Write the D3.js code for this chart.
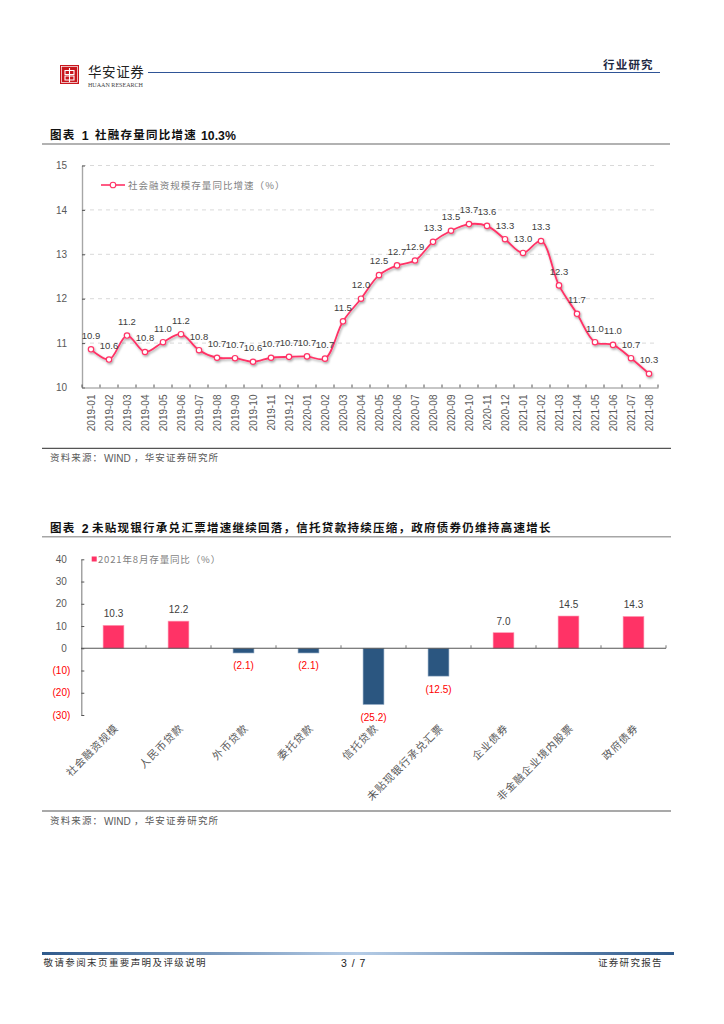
<!DOCTYPE html>
<html><head><meta charset="utf-8">
<script src="https://cdn.jsdelivr.net/npm/d3@7/dist/d3.min.js"></script>
<style>
html,body{margin:0;padding:0;background:#fff}
svg{display:block}
text{font-family:"Liberation Sans",Arial,sans-serif}
.cjk{font-family:"Noto Sans CJK SC","Liberation Sans",sans-serif}
.domain{fill:none}
</style></head><body>
<svg id="page" width="724" height="1024" viewBox="0 0 724 1024"></svg>
<script>
// ---- data ----
const months = ["2019-01","2019-02","2019-03","2019-04","2019-05","2019-06","2019-07","2019-08","2019-09","2019-10","2019-11","2019-12","2020-01","2020-02","2020-03","2020-04","2020-05","2020-06","2020-07","2020-08","2020-09","2020-10","2020-11","2020-12","2021-01","2021-02","2021-03","2021-04","2021-05","2021-06","2021-07","2021-08"];
const tsfGrowth = [10.86,10.63,11.17,10.80,11.02,11.20,10.84,10.67,10.66,10.58,10.67,10.69,10.70,10.65,11.49,12.00,12.53,12.75,12.86,13.28,13.53,13.68,13.64,13.34,13.03,13.30,12.30,11.66,11.02,10.96,10.66,10.31];
const tsfLabels = ["10.9","10.6","11.2","10.8","11.0","11.2","10.8","10.7","10.7","10.6","10.7","10.7","10.7","10.7","11.5","12.0","12.5","12.7","12.9","13.3","13.5","13.7","13.6","13.3","13.0","13.3","12.3","11.7","11.0","11.0","10.7","10.3"];
const tsfTicks = [10,11,12,13,14,15];
const categories = ["社会融资规模","人民币贷款","外币贷款","委托贷款","信托贷款","未贴现银行承兑汇票","企业债券","非金融企业境内股票","政府债券"];
const stockYoY = [10.3,12.2,-2.1,-2.1,-25.2,-12.5,7.0,14.5,14.3];
const yoyTicks = [-30,-20,-10,0,10,20,30,40];

const PINK="#FF3366", BLUE="#2B5680", GREY="#595959";
const svg=d3.select("#page");
const fmtNeg=v=>v<0?`(${Math.abs(v)})`:`${v}`;
const T=(x,y,s,size,opt={})=>svg.append("text").attr("x",x).attr("y",y).attr("class",opt.cjk===false?null:"cjk")
  .attr("font-size",size).attr("fill",opt.fill||"#222").attr("font-weight",opt.bold?"700":"400")
  .attr("text-anchor",opt.anchor||"start").attr("letter-spacing",opt.ls||0).text(s);
const rule=(x1,x2,y,c,w)=>svg.append("line").attr("x1",x1).attr("x2",x2).attr("y1",y).attr("y2",y).attr("stroke",c).attr("stroke-width",w);

// ---- defs ----
const defs=svg.append("defs");
const g=defs.append("linearGradient").attr("id","foot");
[[0,"#2F5A8C"],[0.5,"#B5CCE6"],[1,"#2F5A8C"]].forEach(s=>g.append("stop").attr("offset",s[0]).attr("stop-color",s[1]));
const f=defs.append("filter").attr("id","shadow").attr("x","-5%").attr("y","-5%").attr("width","110%").attr("height","115%");
f.append("feDropShadow").attr("dx",1).attr("dy",1.5).attr("stdDeviation",0.9).attr("flood-color","#000").attr("flood-opacity",0.35);

// ---- header ----
const logo=svg.append("g").attr("transform","translate(60,65)");
logo.append("rect").attr("width",19).attr("height",19).attr("fill","#C8161D");
logo.append("rect").attr("x",1.5).attr("y",1.5).attr("width",16).attr("height",16).attr("fill","none").attr("stroke","#fff").attr("stroke-width",.7);
logo.append("path").attr("d","M5 5.5H14V9.5H5ZM5 11H14V15H5ZM9.5 3V17").attr("fill","none").attr("stroke","#fff").attr("stroke-width",1.1);
T(88,77,"华安证券",13.5,{fill:"#222",ls:.6});
svg.append("text").attr("x",88).attr("y",86.5).attr("font-size",6).attr("fill","#444").attr("textLength",55)
  .attr("lengthAdjust","spacingAndGlyphs").style("font-family","'Liberation Serif',serif").text("HUAAN RESEARCH");
rule(148,660,72.5,"#2F5597",1.2);
T(603,69,"行业研究",11.5,{bold:true,fill:"#1F2A44",ls:1.2});

// ---- chart 1 ----
T(50,139,"图表",11.5,{bold:true,fill:"#111",ls:1.25});
T(81.7,139.5,"1",12.3,{bold:true,fill:"#111",cjk:false});
T(95,139,"社融存量同比增速",11.5,{bold:true,fill:"#111",ls:1.25});
T(201,139.5,"10.3%",12.3,{bold:true,fill:"#111",cjk:false});
rule(42,670,144,"#666",1.2);
const x1=d3.scaleBand().domain(months).range([82,658]);
const y1=d3.scaleLinear().domain([10,15]).range([387.5,165.5]);
svg.append("g").selectAll("line").data(tsfTicks.slice(1)).join("line")
  .attr("x1",82).attr("x2",658).attr("y1",d=>y1(d)).attr("y2",d=>y1(d))
  .attr("stroke","#D9D9D9").attr("stroke-dasharray","4 4").attr("stroke-width",1);
const ay1=svg.append("g").attr("transform","translate(82,0)").call(d3.axisLeft(y1).tickValues(tsfTicks).tickFormat(d3.format("d")).tickSizeInner(-3).tickSizeOuter(0).tickPadding(15));
ay1.select(".domain").attr("stroke","#A6A6A6").attr("stroke-width",1.4);
ay1.selectAll("line").attr("stroke","#555");
ay1.selectAll("text").attr("font-size",10).attr("fill",GREY).style("font-family","'Liberation Sans'");
const ax1=svg.append("g").attr("transform","translate(0,387.5)").call(d3.axisBottom(x1).tickSize(0).tickPadding(0));
ax1.select(".domain").attr("stroke","#8C8C8C").attr("stroke-width",1);
ax1.selectAll("text").attr("transform","rotate(-90)").attr("text-anchor","end").attr("x",-7).attr("y",0).attr("dy","0.35em")
  .attr("font-size",10).attr("fill",GREY).style("font-family","'Liberation Sans'");
svg.append("g").selectAll("line").data([...months.map(m=>x1(m)),x1.range()[1]]).join("line")
  .attr("x1",d=>d).attr("x2",d=>d).attr("y1",387.5).attr("y2",384.5).attr("stroke","#555");
const pts=months.map((m,i)=>({m,v:tsfGrowth[i],l:tsfLabels[i]}));
const cx=d=>x1(d.m)+x1.bandwidth()/2;
const line=d3.line().x(cx).y(d=>y1(d.v)).curve(d3.curveCatmullRom.alpha(.5));
const lay=svg.append("g").attr("filter","url(#shadow)");
lay.append("path").datum(pts).attr("d",line).attr("fill","none").attr("stroke",PINK).attr("stroke-width",1.8);
lay.selectAll("circle").data(pts).join("circle").attr("cx",cx).attr("cy",d=>y1(d.v)).attr("r",2.7)
  .attr("fill","#fff").attr("stroke",PINK).attr("stroke-width",1.2);
svg.append("g").selectAll("text").data(pts).join("text").attr("x",cx).attr("y",d=>y1(d.v)-14).attr("dy","0.35em")
  .attr("text-anchor","middle").attr("font-size",9.5).attr("fill","#404040").text(d=>d.l);
// legend 1
rule(101,125,185,PINK,1.6);
svg.append("circle").attr("cx",113).attr("cy",185).attr("r",2.8).attr("fill","#fff").attr("stroke",PINK).attr("stroke-width",1.1);
T(128,188.5,"社会融资规模存量同比增速（%）",9.5,{fill:"#7F7F7F",ls:1.05});
rule(42,671,448.3,"#555",1.2);
T(50,461,"资料来源：",9.5,{fill:GREY,ls:1.15});
T(104,461.5,"WIND",10,{fill:GREY,cjk:false});
T(134,461,"，华安证券研究所",9.5,{fill:GREY,ls:1.15});

// ---- chart 2 ----
T(50,532,"图表",11.5,{bold:true,fill:"#111",ls:1.25});
T(81.7,532.5,"2",12.3,{bold:true,fill:"#111",cjk:false});
T(92,532,"未贴现银行承兑汇票增速继续回落，信托贷款持续压缩，政府债券仍维持高速增长",11.5,{bold:true,fill:"#111",ls:1.27});
rule(42,671,536.8,"#A6A6A6",1.5);
const x2=d3.scaleBand().domain(categories).range([81,666]).paddingInner(.68).paddingOuter(.34);
const cell=x2.step();
const y2=d3.scaleLinear().domain([-30,40]).range([715,559.3]);
const cat=d=>x2(d)+x2.bandwidth()/2;
const bars=categories.map((c,i)=>({c,v:stockYoY[i]}));
svg.append("g").selectAll("rect").data(bars).join("rect").attr("x",d=>x2(d.c)).attr("width",x2.bandwidth())
  .attr("y",d=>y2(Math.max(d.v,0))).attr("height",d=>Math.abs(y2(d.v)-y2(0)))
  .attr("fill",d=>d.v<0?BLUE:PINK).attr("stroke",d=>d.v<0?"#7F9BB8":"#FF99B3").attr("stroke-width",.6);
const ay2=svg.append("g").attr("transform","translate(81.3,0)").call(d3.axisLeft(y2).tickValues(yoyTicks).tickFormat(fmtNeg).tickSizeInner(-3).tickSizeOuter(0).tickPadding(11));
ay2.select(".domain").attr("stroke","#8C8C8C").attr("stroke-width",1.2);
ay2.selectAll("line").attr("stroke","#555");
ay2.selectAll("text").attr("font-size",10).attr("fill",d=>d<0?"#FF0000":GREY).style("font-family","'Liberation Sans'")
  .attr("dx",d=>d<0?0:-3.5);
svg.append("line").attr("x1",81).attr("x2",666).attr("y1",y2(0)).attr("y2",y2(0)).attr("stroke","#555").attr("stroke-width",1.2);
svg.append("g").selectAll("line").data(d3.range(1,10)).join("line")
  .attr("x1",i=>81+i*cell).attr("x2",i=>81+i*cell).attr("y1",y2(0)).attr("y2",y2(0)-3).attr("stroke","#777");
svg.append("g").selectAll("text").data(bars).join("text").attr("x",d=>cat(d.c))
  .attr("y",d=>d.v<0?y2(d.v)+13:y2(d.v)-11.7).attr("dy","0.35em").attr("text-anchor","middle").attr("font-size",10)
  .attr("fill",d=>d.v<0?"#FF0000":"#404040").text(d=>d.v<0?`(${Math.abs(d.v).toFixed(1)})`:d.v.toFixed(1));
svg.append("g").selectAll("text").data(categories).join("text").attr("class","cjk")
  .attr("transform",d=>`translate(${cat(d)+3},726) rotate(-45)`).attr("text-anchor","end").attr("dy","0.35em")
  .attr("font-size",10.5).attr("letter-spacing",.9).attr("fill",GREY).text(d=>d);
svg.append("rect").attr("x",91.7).attr("y",556.5).attr("width",5).attr("height",5).attr("fill",PINK);
T(98,563,"2021年8月存量同比（%）",9.5,{fill:"#7F7F7F",ls:.85});
rule(42,671,811,"#555",1.2);
T(50,824,"资料来源：",9.5,{fill:GREY,ls:1.15});
T(104,824.5,"WIND",10,{fill:GREY,cjk:false});
T(134,824,"，华安证券研究所",9.5,{fill:GREY,ls:1.15});

// ---- footer ----
svg.append("rect").attr("x",42).attr("y",952).attr("width",632).attr("height",3).attr("fill","url(#foot)");
T(43.5,966,"敬请参阅末页重要声明及评级说明",9.5,{fill:"#333",ls:1.4});
T(341,966.5,"3 / 7",10.5,{fill:"#222",cjk:false,ls:1});
T(598,966,"证券研究报告",9.5,{fill:"#333",ls:1.3});
</script>
</body></html>
